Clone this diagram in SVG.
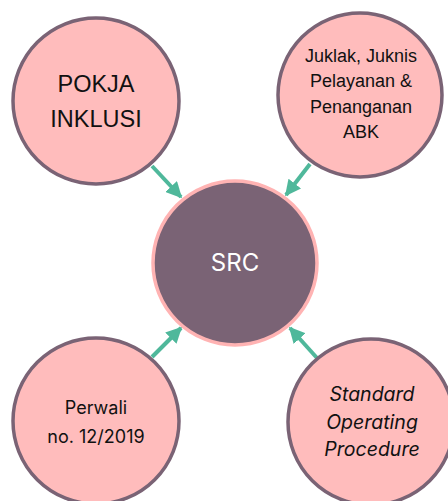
<svg xmlns="http://www.w3.org/2000/svg" width="448" height="501" viewBox="0 0 448 501">
<style>
.node{fill:#ffbcbc;stroke:#7a6375;stroke-width:3.5}
.t{font-family:"Liberation Sans",Arial,sans-serif;fill:#111;text-anchor:middle}
.g{font-family:Inter,"Open Sans",sans-serif;fill:#111;text-anchor:middle}
.conn{stroke:#4fb89b;stroke-width:4;fill:none}
</style>
<defs>
<marker id="ah" viewBox="0 0 10 10" refX="9" refY="5" markerWidth="4" markerHeight="4" orient="auto" markerUnits="strokeWidth">
<path d="M0,0 L10,5 L0,10 z" fill="#4fb89b"/>
</marker>
</defs>
<g id="connectors">
<line class="conn" x1="152" y1="166" x2="181" y2="197" marker-end="url(#ah)"/>
<line class="conn" x1="310" y1="164" x2="286" y2="195" marker-end="url(#ah)"/>
<line class="conn" x1="152" y1="357" x2="181" y2="328" marker-end="url(#ah)"/>
<line class="conn" x1="317" y1="358" x2="290" y2="328" marker-end="url(#ah)"/>
</g>
<g id="src">
<circle cx="235" cy="263" r="82" fill="#7a6375" stroke="#ffb3b3" stroke-width="3.5"/>
<text class="g" x="235" y="271" font-size="24" style="fill:#fff">SRC</text>
</g>
<g id="pokja">
<circle class="node" cx="96" cy="101" r="83"/>
<text class="t" x="96" y="92" font-size="23.5">POKJA</text>
<text class="t" x="96" y="127" font-size="23.5">INKLUSI</text>
</g>
<g id="juklak">
<circle class="node" cx="360" cy="95" r="82"/>
<text class="t" x="361" y="62" font-size="18">Juklak, Juknis</text>
<text class="t" x="361" y="87" font-size="18">Pelayanan &amp;</text>
<text class="t" x="361" y="113" font-size="18">Penanganan</text>
<text class="t" x="361" y="138" font-size="18">ABK</text>
</g>
<g id="perwali">
<circle class="node" cx="96" cy="421" r="83"/>
<text class="g" x="96" y="414" font-size="18">Perwali</text>
<text class="g" x="96" y="443" font-size="18">no. 12/2019</text>
</g>
<g id="sop">
<circle class="node" cx="371" cy="422" r="83"/>
<text class="g" x="372" y="401" font-size="19.5" font-style="italic">Standard</text>
<text class="g" x="372" y="429" font-size="19.5" font-style="italic">Operating</text>
<text class="g" x="372" y="456" font-size="19.5" font-style="italic">Procedure</text>
</g>
</svg>
